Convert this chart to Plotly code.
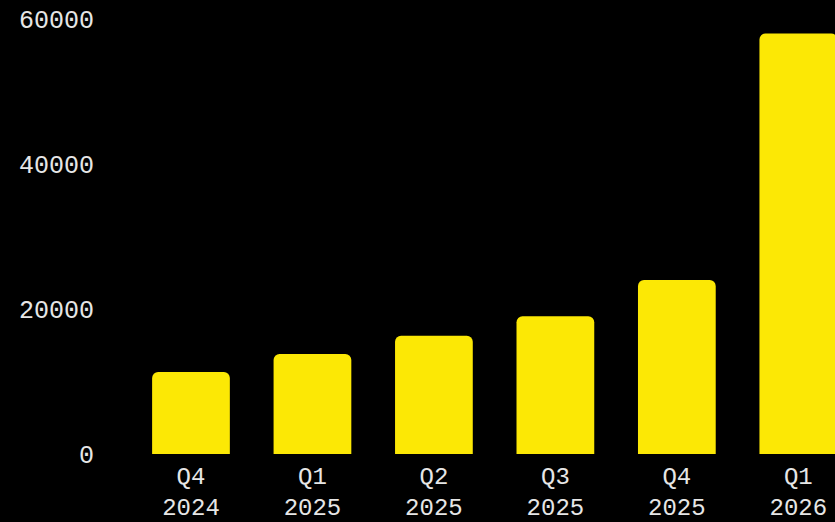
import plotly.graph_objects as go

categories = ["Q4<br>2024", "Q1<br>2025", "Q2<br>2025", "Q3<br>2025", "Q4<br>2025", "Q1<br>2026"]
values = [11300, 13800, 16300, 19000, 24000, 58000]
y_ticks = [0, 20000, 40000, 60000]

fig = go.Figure(go.Bar(
    x=list(range(len(categories))), y=values,
    marker=dict(color="#FCE805", cornerradius=6, line=dict(width=0)),
    width=0.64,
))

fig.update_layout(
    width=835, height=522,
    paper_bgcolor="black", plot_bgcolor="black",
    margin=dict(l=100, r=0, t=19, b=68, autoexpand=False),
    font=dict(family="Liberation Mono, Courier New, monospace", size=25, color="#e6e6e6"),
    showlegend=False,
    bargap=0.36,
)
fig.update_xaxes(
    tickmode="array", tickvals=list(range(len(categories))), ticktext=categories,
    range=[-0.749, 5.302], showgrid=False, zeroline=False, showline=False,
    ticklabelstandoff=5, automargin=False, tickfont=dict(size=24),
)
fig.update_yaxes(
    tickmode="array", tickvals=y_ticks, ticktext=[str(v) for v in y_ticks],
    range=[0, 60000], showgrid=False, zeroline=False, showline=False,
    ticklabelstandoff=5, automargin=False,
)

fig.write_html(
    "out.html",
    config={"displayModeBar": False},
    post_script="document.body.style.margin='0';document.documentElement.style.background='black';document.body.style.background='black';",
)
